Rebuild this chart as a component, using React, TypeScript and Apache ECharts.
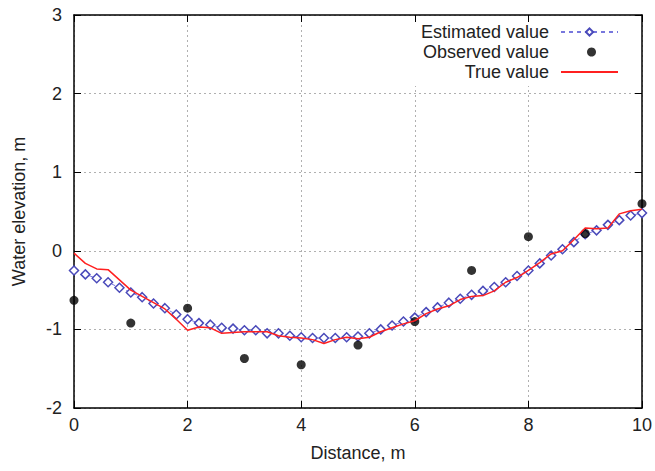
import React, { useEffect, useRef } from "react";
import * as echarts from "echarts";

const distance = [
  0, 0.2, 0.4, 0.6, 0.8, 1.0, 1.2, 1.4, 1.6, 1.8,
  2.0, 2.2, 2.4, 2.6, 2.8, 3.0, 3.2, 3.4, 3.6, 3.8,
  4.0, 4.2, 4.4, 4.6, 4.8, 5.0, 5.2, 5.4, 5.6, 5.8,
  6.0, 6.2, 6.4, 6.6, 6.8, 7.0, 7.2, 7.4, 7.6, 7.8,
  8.0, 8.2, 8.4, 8.6, 8.8, 9.0, 9.2, 9.4, 9.6, 9.8, 10.0,
];

const estimated = [
  -0.25, -0.3, -0.35, -0.4, -0.47, -0.53, -0.59, -0.67, -0.73, -0.81,
  -0.87, -0.92, -0.94, -0.98, -0.99, -1.01, -1.01, -1.05, -1.05, -1.08,
  -1.1, -1.11, -1.11, -1.11, -1.1, -1.09, -1.05, -1.0, -0.95, -0.9,
  -0.85, -0.78, -0.72, -0.66, -0.61, -0.56, -0.51, -0.46, -0.4, -0.32,
  -0.25, -0.16, -0.06, 0.02, 0.11, 0.21, 0.26, 0.33, 0.39, 0.45, 0.48,
];

const trueValue = [
  -0.03, -0.16, -0.23, -0.24, -0.37, -0.5, -0.58, -0.66, -0.74, -0.87,
  -1.01, -0.97, -0.98, -1.05, -1.04, -1.03, -1.03, -1.03, -1.08, -1.1,
  -1.11, -1.13, -1.18, -1.13, -1.1, -1.12, -1.1, -1.03, -0.98, -0.93,
  -0.89, -0.8, -0.74, -0.7, -0.62, -0.58, -0.57, -0.51, -0.4, -0.34,
  -0.25, -0.15, -0.04, 0.0, 0.14, 0.29, 0.28, 0.29, 0.47, 0.51, 0.53,
];

const observedX = [0, 1, 2, 3, 4, 5, 6, 7, 8, 9, 10];
const observed = [-0.63, -0.92, -0.73, -1.37, -1.45, -1.2, -0.9, -0.25, 0.18, 0.22, 0.6];

const FONT = "Liberation Sans";
const TXT = "#222";

export default function App() {
  const ref = useRef<HTMLDivElement>(null);
  useEffect(() => {
    if (!ref.current) return;
    const chart = echarts.init(ref.current, undefined, { renderer: "svg" });
    const axisLine = { show: true, onZero: false, lineStyle: { color: "#000", width: 1.5 } };
    const tick = { show: true, inside: true, length: 7, lineStyle: { color: "#000", width: 1 } };
    const legendBase = {
      orient: "vertical" as const,
      right: 36,
      align: "right" as const,
      itemWidth: 57,
      itemHeight: 9,
      padding: 0,
      z: 10,
      textStyle: { fontFamily: FONT, fontSize: 18, color: TXT, padding: [0, 7, 0, 0] },
    };
    chart.setOption({
      animation: false,
      backgroundColor: "#fff",
      textStyle: { fontFamily: FONT },
      grid: { left: 74, right: 11, top: 15, bottom: 63 },
      graphic: [
        {
          type: "rect",
          z: 3,
          shape: { x: 408, y: 22, width: 228, height: 64 },
          style: { fill: "#fff" },
        },
      ],
      legend: [
        { ...legendBase, top: 23, data: ["Estimated value"] },
        {
          ...legendBase,
          top: 43,
          right: 59,
          itemWidth: 9,
          textStyle: { fontFamily: FONT, fontSize: 18, color: TXT, padding: [0, 33, 0, 0] },
          data: ["Observed value"],
        },
        {
          ...legendBase,
          top: 63,
          itemStyle: { color: "rgba(0,0,0,0)", borderColor: "rgba(0,0,0,0)", borderWidth: 0 },
          data: ["True value"],
        },
      ],
      xAxis: [
        {
          type: "value",
          min: 0,
          max: 10,
          interval: 2,
          position: "bottom",
          name: "Distance, m",
          nameLocation: "middle",
          nameGap: 36,
          nameTextStyle: { fontFamily: FONT, fontSize: 18, color: TXT },
          axisLine,
          axisTick: tick,
          axisLabel: { fontFamily: FONT, fontSize: 18, color: TXT, margin: 8 },
          splitLine: { show: true, lineStyle: { color: "#b0b0b0", type: [2, 3], width: 1 } },
        },
        {
          type: "value",
          min: 0,
          max: 10,
          interval: 2,
          position: "top",
          axisLine,
          axisTick: tick,
          axisLabel: { show: false },
          splitLine: { show: false },
        },
      ],
      yAxis: [
        {
          type: "value",
          min: -2,
          max: 3,
          interval: 1,
          position: "left",
          name: "Water elevation, m",
          nameLocation: "middle",
          nameGap: 46,
          nameRotate: 90,
          nameTextStyle: { fontFamily: FONT, fontSize: 18, color: TXT },
          axisLine,
          axisTick: tick,
          axisLabel: { fontFamily: FONT, fontSize: 18, color: TXT, margin: 12 },
          splitLine: { show: true, lineStyle: { color: "#b0b0b0", type: [2, 3], width: 1 } },
        },
        {
          type: "value",
          min: -2,
          max: 3,
          interval: 1,
          position: "right",
          axisLine,
          axisTick: tick,
          axisLabel: { show: false },
          splitLine: { show: false },
        },
      ],
      series: [
        {
          name: "Estimated value",
          type: "line",
          data: distance.map((d, i) => [d, estimated[i]]),
          symbol: "diamond",
          symbolSize: 9,
          showAllSymbol: true,
          lineStyle: { color: "#7777dd", width: 1, type: [4, 4] },
          itemStyle: { color: "#fff", borderColor: "#4a4aba", borderWidth: 1.5 },
          z: 2,
        },
        {
          name: "Observed value",
          type: "scatter",
          data: observedX.map((d, i) => [d, observed[i]]),
          symbol: "circle",
          symbolSize: 9,
          itemStyle: { color: "#000" },
          z: 3,
        },
        {
          name: "True value",
          type: "line",
          data: distance.map((d, i) => [d, trueValue[i]]),
          symbol: "none",
          lineStyle: { color: "#ff2020", width: 1.5 },
          itemStyle: { color: "#ff2020" },
          z: 4,
        },
      ],
    });
    return () => chart.dispose();
  }, []);
  return <div ref={ref} style={{ width: 655, height: 471, position: "absolute", left: 0, top: 0 }} />;
}
